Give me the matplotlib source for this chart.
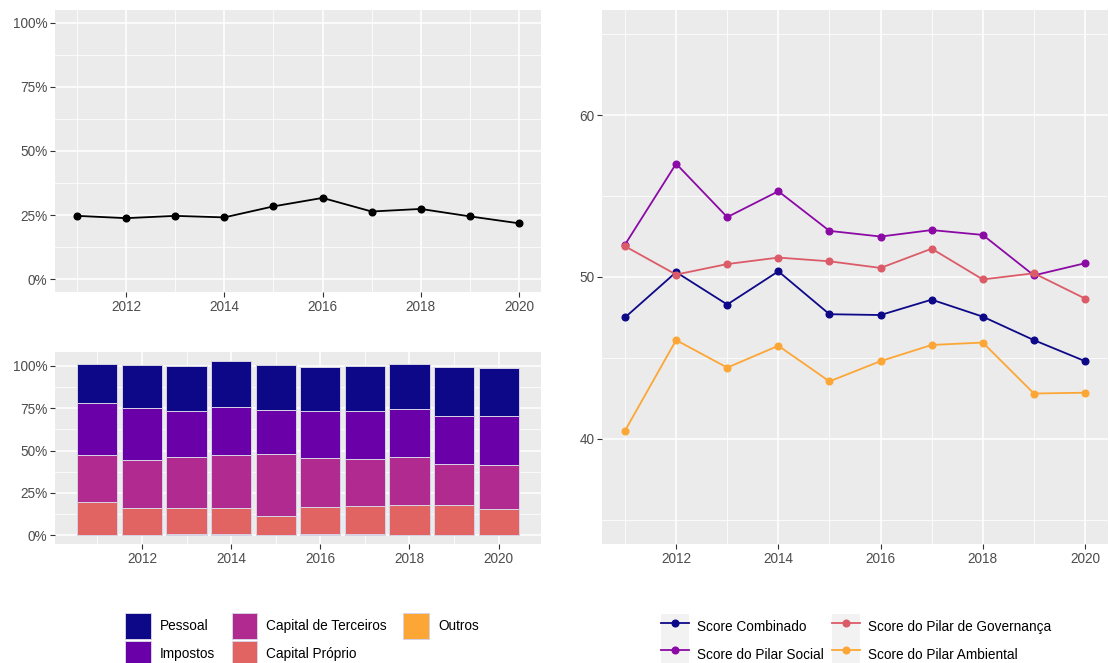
import matplotlib
matplotlib.use("Agg")
import matplotlib.pyplot as plt
import numpy as np
from matplotlib.patches import Patch
from matplotlib.lines import Line2D
from matplotlib.ticker import FixedLocator, FuncFormatter

plt.rcParams['font.family'] = ['Liberation Sans', 'DejaVu Sans']

# ----------------------------
# Data
# ----------------------------
years = [2011, 2012, 2013, 2014, 2015, 2016, 2017, 2018, 2019, 2020]

# top-left line (share, 0-1)
ratio = [0.247, 0.238, 0.247, 0.241, 0.284, 0.317, 0.264, 0.274, 0.245, 0.218]

# stacked bars (shares of each component, bottom -> top is Outros .. Pessoal)
outros = [0.003, 0.003, 0.005, 0.006, 0.004, 0.005, 0.008, 0.004, 0.003, 0.003]
capital_proprio = [0.193, 0.158, 0.154, 0.157, 0.110, 0.162, 0.167, 0.176, 0.175, 0.152]
capital_terceiros = [0.280, 0.284, 0.302, 0.313, 0.366, 0.290, 0.272, 0.279, 0.244, 0.259]
impostos = [0.302, 0.304, 0.272, 0.279, 0.261, 0.278, 0.284, 0.286, 0.280, 0.292]
pessoal = [0.232, 0.257, 0.267, 0.274, 0.265, 0.257, 0.265, 0.263, 0.288, 0.280]

bar_labels = ['Pessoal', 'Impostos', 'Capital de Terceiros', 'Capital Próprio', 'Outros']
bar_colors = ['#0D0887', '#6A00A8', '#B12A90', '#E16462', '#FCA636']

# ESG scores
score_combinado = [47.5, 50.3, 48.3, 50.35, 47.7, 47.65, 48.6, 47.55, 46.1, 44.8]
score_social = [52.0, 57.0, 53.7, 55.3, 52.85, 52.5, 52.9, 52.6, 50.1, 50.85]
score_governanca = [51.9, 50.15, 50.8, 51.2, 50.97, 50.56, 51.75, 49.85, 50.23, 48.67]
score_ambiental = [40.5, 46.1, 44.4, 45.75, 43.55, 44.8, 45.8, 45.95, 42.8, 42.85]

score_labels = ['Score Combinado', 'Score do Pilar Social',
                'Score do Pilar de Governança', 'Score do Pilar Ambiental']
score_colors = ['#0D0887', '#8B0AA5', '#DB5C68', '#FCA636']

# ----------------------------
# Style helpers (ggplot grey look)
# ----------------------------
def gg_style(ax, xmajor, xminor, ymajor, yminor):
    ax.set_facecolor('#EBEBEB')
    for s in ax.spines.values():
        s.set_visible(False)
    ax.xaxis.set_major_locator(FixedLocator(xmajor))
    ax.xaxis.set_minor_locator(FixedLocator(xminor))
    ax.yaxis.set_major_locator(FixedLocator(ymajor))
    ax.yaxis.set_minor_locator(FixedLocator(yminor))
    ax.grid(which='major', color='white', linewidth=1.1)
    ax.grid(which='minor', color='white', linewidth=0.55)
    ax.set_axisbelow(True)
    ax.tick_params(which='major', length=3.5, width=0.8, color='#333333',
                   labelsize=9.8, labelcolor='#4D4D4D', pad=2)
    ax.tick_params(which='minor', length=0)


pct = FuncFormatter(lambda v, p: f"{v * 100:.0f}%")
yr_major = [2012, 2014, 2016, 2018, 2020]
yr_minor = [2011, 2013, 2015, 2017, 2019]

fig = plt.figure(figsize=(11.09, 6.63), dpi=100)
W, H = 1109, 663

def px_axes(x0, y0, x1, y1):
    return fig.add_axes([x0 / W, 1 - y1 / H, (x1 - x0) / W, (y1 - y0) / H])

# ----------------------------
# Top-left: line
# ----------------------------
ax1 = px_axes(55, 10, 541, 292)
ax1.plot(years, ratio, color='black', linewidth=1.3, marker='o', markersize=4.8)
ax1.set_xlim(2010.55, 2020.45)
ax1.set_ylim(-0.05, 1.05)
gg_style(ax1, yr_major, yr_minor, [0, 0.25, 0.5, 0.75, 1.0], [0.125, 0.375, 0.625, 0.875])
ax1.yaxis.set_major_formatter(pct)

# ----------------------------
# Bottom-left: stacked bars
# ----------------------------
ax2 = px_axes(55, 352, 541, 544)
stack = [outros, capital_proprio, capital_terceiros, impostos, pessoal]
stack_colors = bar_colors[::-1]
bottom = np.zeros(len(years))
for vals, col in zip(stack, stack_colors):
    ax2.bar(years, vals, width=0.9, bottom=bottom, color=col,
            edgecolor='#D6D3E6', linewidth=0.7)
    bottom += np.array(vals)
ax2.set_xlim(2010.05, 2020.95)
ax2.set_ylim(-0.0515, 1.081)
gg_style(ax2, yr_major, yr_minor, [0, 0.25, 0.5, 0.75, 1.0], [0.125, 0.375, 0.625, 0.875])
ax2.yaxis.set_major_formatter(pct)

# ----------------------------
# Right: ESG scores
# ----------------------------
ax3 = px_axes(602, 10, 1108, 544)
for vals, col in zip([score_combinado, score_social, score_governanca, score_ambiental], score_colors):
    ax3.plot(years, vals, color=col, linewidth=1.3, marker='o', markersize=4.8)
ax3.set_xlim(2010.55, 2020.45)
ax3.set_ylim(33.5, 66.5)
gg_style(ax3, yr_major, yr_minor, [40, 50, 60], [35, 45, 55, 65])

# ----------------------------
# Legends
# ----------------------------
bar_handles = [Patch(facecolor=c, edgecolor='#D6D3E6', linewidth=0.7) for c in bar_colors]
leg1 = fig.legend(bar_handles, bar_labels, ncol=3, loc='center',
                  bbox_to_anchor=(302 / W, 1 - 640 / H), frameon=False,
                  fontsize=9.8, handlelength=1.9, handleheight=2.6,
                  handletextpad=0.65, columnspacing=1.2, labelspacing=0.1,
                  borderpad=0)

score_handles = [(Patch(facecolor='#F2F2F2', edgecolor='none'),
                  Line2D([], [], color=c, linewidth=1.3, marker='o', markersize=4.8))
                 for c in score_colors]
leg2 = fig.legend(score_handles, score_labels, ncol=2, loc='center',
                  bbox_to_anchor=(856 / W, 1 - 641 / H), frameon=False,
                  fontsize=9.8, handlelength=2.06, handleheight=2.7,
                  handletextpad=0.6, columnspacing=0.6, labelspacing=0.0,
                  borderpad=0)

fig.savefig('out.png', dpi=100)
